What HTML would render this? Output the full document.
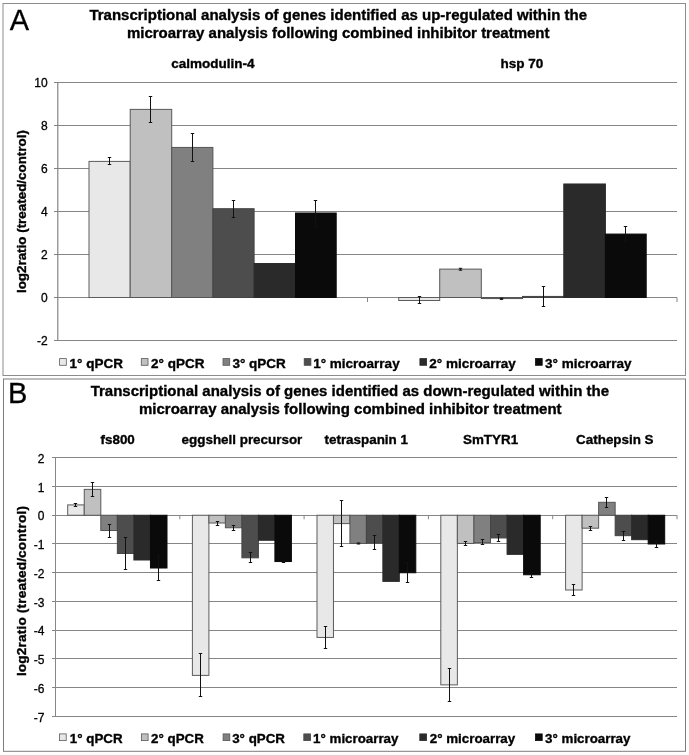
<!DOCTYPE html>
<html><head><meta charset="utf-8"><title>Figure</title>
<style>html,body{margin:0;padding:0;background:#fff}svg{display:block}</style></head>
<body>
<svg width="689" height="755" viewBox="0 0 689 755" font-family="'Liberation Sans', Arial, Helvetica, sans-serif" fill="#000">
<rect width="689" height="755" fill="#fff"/>
<rect x="3" y="3.5" width="682.5" height="372.0" fill="#fff" stroke="#8c8c8c" stroke-width="1"/>
<text x="9.8" y="29.7" font-size="29" font-weight="normal" text-anchor="start"  stroke="#000" stroke-width="0.3">A</text>
<text x="338.2" y="20" font-size="15" font-weight="bold" text-anchor="middle"  stroke="#000" stroke-width="0.35">Transcriptional analysis of genes identified as up-regulated within the</text>
<text x="338.2" y="38.3" font-size="15" font-weight="bold" text-anchor="middle"  stroke="#000" stroke-width="0.35">microarray analysis following combined inhibitor treatment</text>
<text x="212.8" y="68" font-size="13.5" font-weight="bold" text-anchor="middle"  stroke="#000" stroke-width="0.35">calmodulin-4</text>
<text x="522" y="68" font-size="13.5" font-weight="bold" text-anchor="middle"  stroke="#000" stroke-width="0.35">hsp 70</text>
<line x1="54" x2="677" y1="82.5" y2="82.5" stroke="#868686" stroke-width="1"/>
<text x="47.6" y="87.1" font-size="12" font-weight="normal" text-anchor="end"  stroke="#000" stroke-width="0.3">10</text>
<line x1="54" x2="677" y1="125.5" y2="125.5" stroke="#868686" stroke-width="1"/>
<text x="47.6" y="130.1" font-size="12" font-weight="normal" text-anchor="end"  stroke="#000" stroke-width="0.3">8</text>
<line x1="54" x2="677" y1="168.5" y2="168.5" stroke="#868686" stroke-width="1"/>
<text x="47.6" y="173.1" font-size="12" font-weight="normal" text-anchor="end"  stroke="#000" stroke-width="0.3">6</text>
<line x1="54" x2="677" y1="211.5" y2="211.5" stroke="#868686" stroke-width="1"/>
<text x="47.6" y="216.1" font-size="12" font-weight="normal" text-anchor="end"  stroke="#000" stroke-width="0.3">4</text>
<line x1="54" x2="677" y1="254.5" y2="254.5" stroke="#868686" stroke-width="1"/>
<text x="47.6" y="259.1" font-size="12" font-weight="normal" text-anchor="end"  stroke="#000" stroke-width="0.3">2</text>
<line x1="54" x2="677" y1="297.5" y2="297.5" stroke="#868686" stroke-width="1"/>
<text x="47.6" y="302.1" font-size="12" font-weight="normal" text-anchor="end"  stroke="#000" stroke-width="0.3">0</text>
<line x1="54" x2="677" y1="340.5" y2="340.5" stroke="#868686" stroke-width="1"/>
<text x="47.6" y="345.1" font-size="12" font-weight="normal" text-anchor="end"  stroke="#000" stroke-width="0.3">-2</text>
<line x1="57.8" x2="57.8" y1="82.5" y2="340.5" stroke="#7a7a7a" stroke-width="1.1"/>
<line x1="367.5" x2="367.5" y1="297.5" y2="302.0" stroke="#868686" stroke-width="1"/>
<line x1="677" x2="677" y1="297.5" y2="302.0" stroke="#868686" stroke-width="1"/>
<text x="0" y="0" font-size="13.4" font-weight="bold" text-anchor="middle" transform="translate(25.7,211.6) rotate(-90)" stroke="#000" stroke-width="0.35">log2ratio (treated/control)</text>
<rect x="89.00" y="161.41" width="41.20" height="136.09" fill="#e8e8e8" stroke="#5c5c5c" stroke-width="1"/>
<rect x="130.20" y="109.38" width="41.50" height="188.12" fill="#c0c0c0" stroke="#585858" stroke-width="1"/>
<rect x="171.70" y="147.43" width="41.20" height="150.07" fill="#808080" stroke="#555555" stroke-width="1"/>
<rect x="212.90" y="208.70" width="41.20" height="88.80" fill="#4d4d4d" stroke="#444444" stroke-width="1"/>
<rect x="254.10" y="263.53" width="41.40" height="33.97" fill="#2a2a2a" stroke="#2a2a2a" stroke-width="1"/>
<rect x="295.50" y="213.00" width="40.70" height="84.50" fill="#0a0a0a" stroke="#0a0a0a" stroke-width="1"/>
<rect x="398.70" y="297.50" width="41.00" height="3.01" fill="#e8e8e8" stroke="#5c5c5c" stroke-width="1"/>
<rect x="439.70" y="269.12" width="41.60" height="28.38" fill="#c0c0c0" stroke="#585858" stroke-width="1"/>
<rect x="481.30" y="297.50" width="41.20" height="1.07" fill="#808080" stroke="#555555" stroke-width="1"/>
<rect x="522.50" y="296.43" width="41.30" height="1.07" fill="#4d4d4d" stroke="#444444" stroke-width="1"/>
<rect x="563.80" y="183.98" width="41.60" height="113.52" fill="#2a2a2a" stroke="#2a2a2a" stroke-width="1"/>
<rect x="605.40" y="234.07" width="40.80" height="63.43" fill="#0a0a0a" stroke="#0a0a0a" stroke-width="1"/>
<path d="M109.50 157.50V164.50M107.80 157.50H111.20M107.80 164.50H111.20" stroke="#111" stroke-width="1" fill="none"/>
<path d="M150.50 96.50V122.50M148.80 96.50H152.20M148.80 122.50H152.20" stroke="#111" stroke-width="1" fill="none"/>
<path d="M192.50 133.50V161.50M190.80 133.50H194.20M190.80 161.50H194.20" stroke="#111" stroke-width="1" fill="none"/>
<path d="M233.50 200.50V217.50M231.80 200.50H235.20M231.80 217.50H235.20" stroke="#111" stroke-width="1" fill="none"/>
<path d="M315.50 200.50V226.50M313.80 200.50H317.20M313.80 226.50H317.20" stroke="#111" stroke-width="1" fill="none"/>
<path d="M419.50 296.50V303.50M417.80 296.50H421.20M417.80 303.50H421.20" stroke="#111" stroke-width="1" fill="none"/>
<path d="M460.50 268.30V270.20M458.80 268.30H462.20M458.80 270.20H462.20" stroke="#111" stroke-width="1" fill="none"/>
<path d="M501.50 298.20V299.40M499.80 298.20H503.20M499.80 299.40H503.20" stroke="#111" stroke-width="1" fill="none"/>
<path d="M543.50 286.50V306.50M541.80 286.50H545.20M541.80 306.50H545.20" stroke="#111" stroke-width="1" fill="none"/>
<path d="M625.50 226.50V241.50M623.80 226.50H627.20M623.80 241.50H627.20" stroke="#111" stroke-width="1" fill="none"/>
<rect x="59.6" y="358.6" width="6.7" height="6.7" fill="#e8e8e8" stroke="#5c5c5c" stroke-width="0.8"/>
<text x="69.5" y="368" font-size="13.5" font-weight="bold" text-anchor="start"  stroke="#000" stroke-width="0.35">1° qPCR</text>
<rect x="141.3" y="358.6" width="6.7" height="6.7" fill="#c0c0c0" stroke="#585858" stroke-width="0.8"/>
<text x="151.1" y="368" font-size="13.5" font-weight="bold" text-anchor="start"  stroke="#000" stroke-width="0.35">2° qPCR</text>
<rect x="223.0" y="358.6" width="6.7" height="6.7" fill="#808080" stroke="#555555" stroke-width="0.8"/>
<text x="232.4" y="368" font-size="13.5" font-weight="bold" text-anchor="start"  stroke="#000" stroke-width="0.35">3° qPCR</text>
<rect x="304.2" y="358.6" width="6.7" height="6.7" fill="#4d4d4d" stroke="#444444" stroke-width="0.8"/>
<text x="313.2" y="368" font-size="13.5" font-weight="bold" text-anchor="start"  stroke="#000" stroke-width="0.35">1° microarray</text>
<rect x="419.9" y="358.6" width="6.7" height="6.7" fill="#2a2a2a" stroke="#2a2a2a" stroke-width="0.8"/>
<text x="429.3" y="368" font-size="13.5" font-weight="bold" text-anchor="start"  stroke="#000" stroke-width="0.35">2° microarray</text>
<rect x="535.5" y="358.6" width="6.7" height="6.7" fill="#0a0a0a" stroke="#0a0a0a" stroke-width="0.8"/>
<text x="545.1" y="368" font-size="13.5" font-weight="bold" text-anchor="start"  stroke="#000" stroke-width="0.35">3° microarray</text>
<rect x="3.5" y="379" width="682.0" height="372.29999999999995" fill="#fff" stroke="#7c7c7c" stroke-width="1"/>
<text x="8" y="403.1" font-size="29" font-weight="normal" text-anchor="start"  stroke="#000" stroke-width="0.3">B</text>
<text x="349.9" y="396" font-size="15" font-weight="bold" text-anchor="middle"  stroke="#000" stroke-width="0.35">Transcriptional analysis of genes identified as down-regulated within the</text>
<text x="350.3" y="414.3" font-size="15" font-weight="bold" text-anchor="middle"  stroke="#000" stroke-width="0.35">microarray analysis following combined inhibitor treatment</text>
<text x="117.65" y="444" font-size="13.42" font-weight="bold" text-anchor="middle"  stroke="#000" stroke-width="0.35">fs800</text>
<text x="241.95" y="444" font-size="13.42" font-weight="bold" text-anchor="middle"  stroke="#000" stroke-width="0.35">eggshell precursor</text>
<text x="366.25" y="444" font-size="13.42" font-weight="bold" text-anchor="middle"  stroke="#000" stroke-width="0.35">tetraspanin 1</text>
<text x="490.55" y="444" font-size="13.42" font-weight="bold" text-anchor="middle"  stroke="#000" stroke-width="0.35">SmTYR1</text>
<text x="614.85" y="444" font-size="13.42" font-weight="bold" text-anchor="middle"  stroke="#000" stroke-width="0.35">Cathepsin S</text>
<line x1="52.0" x2="677" y1="457.5" y2="457.5" stroke="#868686" stroke-width="1"/>
<text x="44.4" y="462.75" font-size="12" font-weight="normal" text-anchor="end"  stroke="#000" stroke-width="0.3">2</text>
<line x1="52.0" x2="677" y1="486.5" y2="486.5" stroke="#868686" stroke-width="1"/>
<text x="44.4" y="491.5" font-size="12" font-weight="normal" text-anchor="end"  stroke="#000" stroke-width="0.3">1</text>
<line x1="52.0" x2="677" y1="515.5" y2="515.5" stroke="#868686" stroke-width="1"/>
<text x="44.4" y="520.25" font-size="12" font-weight="normal" text-anchor="end"  stroke="#000" stroke-width="0.3">0</text>
<line x1="52.0" x2="677" y1="543.5" y2="543.5" stroke="#868686" stroke-width="1"/>
<text x="44.4" y="549.0" font-size="12" font-weight="normal" text-anchor="end"  stroke="#000" stroke-width="0.3">-1</text>
<line x1="52.0" x2="677" y1="572.5" y2="572.5" stroke="#868686" stroke-width="1"/>
<text x="44.4" y="577.75" font-size="12" font-weight="normal" text-anchor="end"  stroke="#000" stroke-width="0.3">-2</text>
<line x1="52.0" x2="677" y1="601.5" y2="601.5" stroke="#868686" stroke-width="1"/>
<text x="44.4" y="606.5" font-size="12" font-weight="normal" text-anchor="end"  stroke="#000" stroke-width="0.3">-3</text>
<line x1="52.0" x2="677" y1="630.5" y2="630.5" stroke="#868686" stroke-width="1"/>
<text x="44.4" y="635.25" font-size="12" font-weight="normal" text-anchor="end"  stroke="#000" stroke-width="0.3">-4</text>
<line x1="52.0" x2="677" y1="658.5" y2="658.5" stroke="#868686" stroke-width="1"/>
<text x="44.4" y="664.0" font-size="12" font-weight="normal" text-anchor="end"  stroke="#000" stroke-width="0.3">-5</text>
<line x1="52.0" x2="677" y1="687.5" y2="687.5" stroke="#868686" stroke-width="1"/>
<text x="44.4" y="692.75" font-size="12" font-weight="normal" text-anchor="end"  stroke="#000" stroke-width="0.3">-6</text>
<line x1="52.0" x2="677" y1="716.5" y2="716.5" stroke="#868686" stroke-width="1"/>
<text x="44.4" y="721.5" font-size="12" font-weight="normal" text-anchor="end"  stroke="#000" stroke-width="0.3">-7</text>
<line x1="55.5" x2="55.5" y1="457.75" y2="716.5" stroke="#868686" stroke-width="1"/>
<line x1="179.8" x2="179.8" y1="515.25" y2="519.25" stroke="#868686" stroke-width="1"/>
<line x1="304.1" x2="304.1" y1="515.25" y2="519.25" stroke="#868686" stroke-width="1"/>
<line x1="428.4" x2="428.4" y1="515.25" y2="519.25" stroke="#868686" stroke-width="1"/>
<line x1="552.7" x2="552.7" y1="515.25" y2="519.25" stroke="#868686" stroke-width="1"/>
<line x1="677.0" x2="677.0" y1="515.25" y2="519.25" stroke="#868686" stroke-width="1"/>
<text x="0" y="0" font-size="13.7" font-weight="bold" text-anchor="middle" transform="translate(25.5,591) rotate(-90)" letter-spacing="0.135" stroke="#000" stroke-width="0.35">log2ratio (treated/control)</text>
<rect x="67.70" y="504.90" width="16.55" height="10.35" fill="#e8e8e8" stroke="#5c5c5c" stroke-width="1"/>
<rect x="84.25" y="489.38" width="16.55" height="25.88" fill="#c0c0c0" stroke="#585858" stroke-width="1"/>
<rect x="100.80" y="515.25" width="16.55" height="15.24" fill="#808080" stroke="#555555" stroke-width="1"/>
<rect x="117.35" y="515.25" width="16.55" height="38.24" fill="#4d4d4d" stroke="#444444" stroke-width="1"/>
<rect x="133.90" y="515.25" width="16.55" height="44.74" fill="#2a2a2a" stroke="#2a2a2a" stroke-width="1"/>
<rect x="150.45" y="515.25" width="16.55" height="52.76" fill="#0a0a0a" stroke="#0a0a0a" stroke-width="1"/>
<rect x="192.40" y="515.25" width="16.50" height="160.14" fill="#e8e8e8" stroke="#5c5c5c" stroke-width="1"/>
<rect x="208.90" y="515.25" width="16.50" height="7.76" fill="#c0c0c0" stroke="#585858" stroke-width="1"/>
<rect x="225.40" y="515.25" width="16.50" height="12.51" fill="#808080" stroke="#555555" stroke-width="1"/>
<rect x="241.90" y="515.25" width="16.50" height="42.55" fill="#4d4d4d" stroke="#444444" stroke-width="1"/>
<rect x="258.40" y="515.25" width="16.50" height="25.01" fill="#2a2a2a" stroke="#2a2a2a" stroke-width="1"/>
<rect x="274.90" y="515.25" width="16.50" height="46.29" fill="#0a0a0a" stroke="#0a0a0a" stroke-width="1"/>
<rect x="317.00" y="515.25" width="16.47" height="122.19" fill="#e8e8e8" stroke="#5c5c5c" stroke-width="1"/>
<rect x="333.47" y="515.25" width="16.47" height="8.34" fill="#c0c0c0" stroke="#585858" stroke-width="1"/>
<rect x="349.93" y="515.25" width="16.47" height="28.17" fill="#808080" stroke="#555555" stroke-width="1"/>
<rect x="366.40" y="515.25" width="16.47" height="27.89" fill="#4d4d4d" stroke="#444444" stroke-width="1"/>
<rect x="382.87" y="515.25" width="16.47" height="66.12" fill="#2a2a2a" stroke="#2a2a2a" stroke-width="1"/>
<rect x="399.33" y="515.25" width="16.47" height="57.50" fill="#0a0a0a" stroke="#0a0a0a" stroke-width="1"/>
<rect x="440.80" y="515.25" width="16.57" height="169.62" fill="#e8e8e8" stroke="#5c5c5c" stroke-width="1"/>
<rect x="457.37" y="515.25" width="16.57" height="28.17" fill="#c0c0c0" stroke="#585858" stroke-width="1"/>
<rect x="473.93" y="515.25" width="16.57" height="27.31" fill="#808080" stroke="#555555" stroke-width="1"/>
<rect x="490.50" y="515.25" width="16.57" height="22.71" fill="#4d4d4d" stroke="#444444" stroke-width="1"/>
<rect x="507.07" y="515.25" width="16.57" height="39.10" fill="#2a2a2a" stroke="#2a2a2a" stroke-width="1"/>
<rect x="523.63" y="515.25" width="16.57" height="59.51" fill="#0a0a0a" stroke="#0a0a0a" stroke-width="1"/>
<rect x="565.60" y="515.25" width="16.52" height="74.75" fill="#e8e8e8" stroke="#5c5c5c" stroke-width="1"/>
<rect x="582.12" y="515.25" width="16.52" height="12.94" fill="#c0c0c0" stroke="#585858" stroke-width="1"/>
<rect x="598.63" y="502.31" width="16.52" height="12.94" fill="#808080" stroke="#555555" stroke-width="1"/>
<rect x="615.15" y="515.25" width="16.52" height="20.41" fill="#4d4d4d" stroke="#444444" stroke-width="1"/>
<rect x="631.67" y="515.25" width="16.52" height="24.44" fill="#2a2a2a" stroke="#2a2a2a" stroke-width="1"/>
<rect x="648.18" y="515.25" width="16.52" height="28.75" fill="#0a0a0a" stroke="#0a0a0a" stroke-width="1"/>
<path d="M75.50 503.50V506.50M73.80 503.50H77.20M73.80 506.50H77.20" stroke="#111" stroke-width="1" fill="none"/>
<path d="M92.50 482.50V496.50M90.80 482.50H94.20M90.80 496.50H94.20" stroke="#111" stroke-width="1" fill="none"/>
<path d="M109.50 524.50V537.50M107.80 524.50H111.20M107.80 537.50H111.20" stroke="#111" stroke-width="1" fill="none"/>
<path d="M125.50 537.50V569.50M123.80 537.50H127.20M123.80 569.50H127.20" stroke="#111" stroke-width="1" fill="none"/>
<path d="M158.50 555.50V580.50M156.80 555.50H160.20M156.80 580.50H160.20" stroke="#111" stroke-width="1" fill="none"/>
<path d="M200.50 653.50V696.50M198.80 653.50H202.20M198.80 696.50H202.20" stroke="#111" stroke-width="1" fill="none"/>
<path d="M217.50 521.50V525.50M215.80 521.50H219.20M215.80 525.50H219.20" stroke="#111" stroke-width="1" fill="none"/>
<path d="M233.50 525.50V530.50M231.80 525.50H235.20M231.80 530.50H235.20" stroke="#111" stroke-width="1" fill="none"/>
<path d="M250.50 552.50V562.50M248.80 552.50H252.20M248.80 562.50H252.20" stroke="#111" stroke-width="1" fill="none"/>
<path d="M283.50 561.30V562.50M281.80 561.30H285.20M281.80 562.50H285.20" stroke="#111" stroke-width="1" fill="none"/>
<path d="M325.50 626.50V648.50M323.80 626.50H327.20M323.80 648.50H327.20" stroke="#111" stroke-width="1" fill="none"/>
<path d="M341.50 500.50V546.50M339.80 500.50H343.20M339.80 546.50H343.20" stroke="#111" stroke-width="1" fill="none"/>
<path d="M358.50 543.00V544.00M356.80 543.00H360.20M356.80 544.00H360.20" stroke="#111" stroke-width="1" fill="none"/>
<path d="M374.50 535.50V549.50M372.80 535.50H376.20M372.80 549.50H376.20" stroke="#111" stroke-width="1" fill="none"/>
<path d="M407.50 562.50V582.50M405.80 562.50H409.20M405.80 582.50H409.20" stroke="#111" stroke-width="1" fill="none"/>
<path d="M449.50 668.50V701.50M447.80 668.50H451.20M447.80 701.50H451.20" stroke="#111" stroke-width="1" fill="none"/>
<path d="M465.50 541.50V545.50M463.80 541.50H467.20M463.80 545.50H467.20" stroke="#111" stroke-width="1" fill="none"/>
<path d="M482.50 539.50V544.50M480.80 539.50H484.20M480.80 544.50H484.20" stroke="#111" stroke-width="1" fill="none"/>
<path d="M498.50 534.50V541.50M496.80 534.50H500.20M496.80 541.50H500.20" stroke="#111" stroke-width="1" fill="none"/>
<path d="M531.50 572.50V577.50M529.80 572.50H533.20M529.80 577.50H533.20" stroke="#111" stroke-width="1" fill="none"/>
<path d="M573.50 584.50V595.50M571.80 584.50H575.20M571.80 595.50H575.20" stroke="#111" stroke-width="1" fill="none"/>
<path d="M590.50 526.50V530.50M588.80 526.50H592.20M588.80 530.50H592.20" stroke="#111" stroke-width="1" fill="none"/>
<path d="M606.50 497.50V507.50M604.80 497.50H608.20M604.80 507.50H608.20" stroke="#111" stroke-width="1" fill="none"/>
<path d="M623.50 531.50V540.50M621.80 531.50H625.20M621.80 540.50H625.20" stroke="#111" stroke-width="1" fill="none"/>
<path d="M656.50 541.50V547.50M654.80 541.50H658.20M654.80 547.50H658.20" stroke="#111" stroke-width="1" fill="none"/>
<rect x="59.5" y="733.9" width="6.7" height="6.7" fill="#e8e8e8" stroke="#5c5c5c" stroke-width="0.8"/>
<text x="69.8" y="743" font-size="13.33" font-weight="bold" text-anchor="start"  stroke="#000" stroke-width="0.35">1° qPCR</text>
<rect x="141.4" y="733.9" width="6.7" height="6.7" fill="#c0c0c0" stroke="#585858" stroke-width="0.8"/>
<text x="151.1" y="743" font-size="13.33" font-weight="bold" text-anchor="start"  stroke="#000" stroke-width="0.35">2° qPCR</text>
<rect x="223.1" y="733.9" width="6.7" height="6.7" fill="#808080" stroke="#555555" stroke-width="0.8"/>
<text x="232.2" y="743" font-size="13.33" font-weight="bold" text-anchor="start"  stroke="#000" stroke-width="0.35">3° qPCR</text>
<rect x="303.8" y="733.9" width="6.7" height="6.7" fill="#4d4d4d" stroke="#444444" stroke-width="0.8"/>
<text x="313.1" y="743" font-size="13.33" font-weight="bold" text-anchor="start"  stroke="#000" stroke-width="0.35">1° microarray</text>
<rect x="419.8" y="733.9" width="6.7" height="6.7" fill="#2a2a2a" stroke="#2a2a2a" stroke-width="0.8"/>
<text x="429.8" y="743" font-size="13.33" font-weight="bold" text-anchor="start"  stroke="#000" stroke-width="0.35">2° microarray</text>
<rect x="535.5" y="733.9" width="6.7" height="6.7" fill="#0a0a0a" stroke="#0a0a0a" stroke-width="0.8"/>
<text x="545.1" y="743" font-size="13.33" font-weight="bold" text-anchor="start"  stroke="#000" stroke-width="0.35">3° microarray</text>
</svg>
</body></html>
